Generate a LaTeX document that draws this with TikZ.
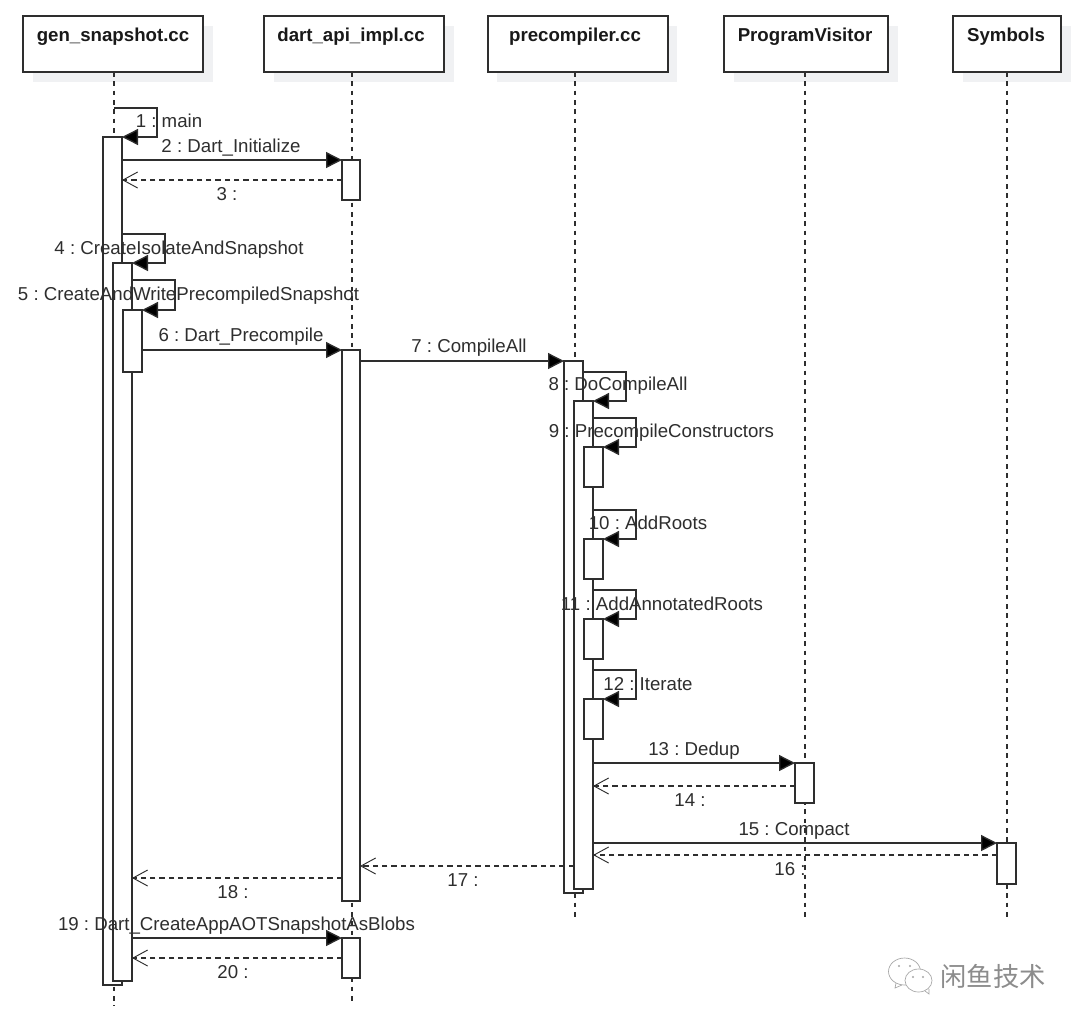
\documentclass[tikz,border=0pt]{standalone}
\usepackage{fontspec}
\setmainfont{Liberation Sans}
\newfontfamily\cjkfont{Noto Sans CJK SC}
\usetikzlibrary{arrows.meta}
\definecolor{inkc}{HTML}{2E2E2E}
\definecolor{shadowc}{HTML}{F0F1F3}
\tikzset{
  headbox/.style={draw=inkc,line width=0.9pt,fill=white,minimum height=42pt,anchor=north west,inner sep=0pt,outer sep=0pt},
  headtext/.style={font=\bfseries\fontsize{14}{16}\selectfont,text=black!90,anchor=base,inner sep=0pt},
  shadowbox/.style={fill=shadowc,draw=none,minimum height=42pt,anchor=north west,inner sep=0pt},
  lifeline/.style={draw=inkc,line width=0.9pt,dash pattern=on 3.5pt off 3.5pt},
  actbox/.style={draw=inkc,line width=0.9pt,fill=white,inner sep=0pt,outer sep=0pt,anchor=north west},
  call/.style={draw=inkc,line width=1pt,-{Triangle[length=12pt,width=12pt,fill=black]}},
  reply/.style={draw=inkc,line width=0.9pt,dash pattern=on 4pt off 3pt,-{Straight Barb[length=11pt,width=12pt,line width=0.7pt]}},
  lbl/.style={font=\fontsize{14}{16}\selectfont,text=inkc,inner sep=0pt,anchor=base},
  wmline/.style={draw=black!35,line width=0.5pt},
}
\newcommand\actnode[5]{\node[actbox,minimum width=#4*0.75pt,minimum height=#5*0.75pt] (#1) at (#2,#3) {};}
\begin{document}
\frenchspacing
\begin{tikzpicture}[x=0.75pt,y=-0.75pt]
\useasboundingbox[fill=white] (0,0) rectangle (1080,1025);
% shadows
\node[shadowbox,minimum width=135pt] (s1) at (33,26) {};
\node[shadowbox,minimum width=135pt] (s2) at (274,26) {};
\node[shadowbox,minimum width=135pt] (s3) at (497,26) {};
\node[shadowbox,minimum width=123pt] (s4) at (734,26) {};
\node[shadowbox,minimum width=81pt] (s5) at (963,26) {};
% heads
\node[headbox,minimum width=135pt] (h1) at (23,16) {};
\node[headbox,minimum width=135pt] (h2) at (264,16) {};
\node[headbox,minimum width=135pt] (h3) at (488,16) {};
\node[headbox,minimum width=123pt] (h4) at (724,16) {};
\node[headbox,minimum width=81pt] (h5) at (953,16) {};
\node[headtext] (t1) at (113,41) {gen\_snapshot.cc};
\node[headtext] (t2) at (351,41) {dart\_api\_impl.cc};
\node[headtext] (t3) at (575,41) {precompiler.cc};
\node[headtext] (t4) at (805,41) {ProgramVisitor};
\node[headtext] (t5) at (1006,41) {Symbols};
% lifeline ends
\coordinate (e1) at (114,1006);
\coordinate (e2) at (352,1002);
\coordinate (e3) at (575,921);
\coordinate (e4) at (805,921);
\coordinate (e5) at (1007,921);
\draw[lifeline] (h1.south -| e1) -- (e1);
\draw[lifeline] (h2.south -| e2) -- (e2);
\draw[lifeline] (h3.south -| e3) -- (e3);
\draw[lifeline] (h4.south -| e4) -- (e4);
\draw[lifeline] (h5.south -| e5) -- (e5);
% activations
\actnode{a1}{103}{137}{19}{848}
\actnode{a2}{113}{263}{19}{718}
\actnode{a3}{123}{310}{19}{62}
\actnode{b1}{342}{160}{18}{40}
\actnode{b2}{342}{350}{18}{551}
\actnode{b3}{342}{938}{18}{40}
\actnode{c1}{564}{361}{19}{532}
\actnode{c2}{574}{401}{19}{488}
\actnode{c3}{584}{447}{19}{40}
\actnode{c4}{584}{539}{19}{40}
\actnode{c5}{584}{619}{19}{40}
\actnode{c6}{584}{699}{19}{40}
\actnode{d1}{795}{763}{19}{40}
\actnode{f1}{997}{843}{19}{41}
% self calls: corner coordinates
\coordinate (k1) at (157,108);
\coordinate (k4) at (165,234);
\coordinate (k5) at (175,280);
\coordinate (k8) at (626,372);
\coordinate (k9) at (636,418);
\coordinate (k10) at (636,510);
\coordinate (k11) at (636,590);
\coordinate (k12) at (636,670);
\draw[call] (e1 |- k1) -- (k1) -- (k1 |- a1.north) -- (a1.north east);
\draw[call] (a1.east |- k4) -- (k4) -- (k4 |- a2.north) -- (a2.north east);
\draw[call] (a2.east |- k5) -- (k5) -- (k5 |- a3.north) -- (a3.north east);
\draw[call] (c1.east |- k8) -- (k8) -- (k8 |- c2.north) -- (c2.north east);
\draw[call] (c2.east |- k9) -- (k9) -- (k9 |- c3.north) -- (c3.north east);
\draw[call] (c2.east |- k10) -- (k10) -- (k10 |- c4.north) -- (c4.north east);
\draw[call] (c2.east |- k11) -- (k11) -- (k11 |- c5.north) -- (c5.north east);
\draw[call] (c2.east |- k12) -- (k12) -- (k12 |- c6.north) -- (c6.north east);
% calls
\draw[call] (a1.east |- b1.north west) -- (b1.north west);
\draw[call] (a3.east |- b2.north west) -- (b2.north west);
\draw[call] (b2.east |- c1.north west) -- (c1.north west);
\draw[call] (c2.east |- d1.north west) -- (d1.north west);
\draw[call] (c2.east |- f1.north west) -- (f1.north west);
\draw[call] (a2.east |- b3.north west) -- (b3.north west);
% replies
\coordinate (r3) at (0,180);
\coordinate (r14) at (0,786);
\coordinate (r16) at (0,855);
\coordinate (r17) at (0,866);
\coordinate (r18) at (0,878);
\coordinate (r20) at (0,958);
\draw[reply] (b1.west |- r3) -- (a1.east |- r3);
\draw[reply] (d1.west |- r14) -- (c2.east |- r14);
\draw[reply] (f1.west |- r16) -- (c2.east |- r16);
\draw[reply] (c2.west |- r17) -- (b2.east |- r17);
\draw[reply] (b2.west |- r18) -- (a2.east |- r18);
\draw[reply] (b3.west |- r20) -- (a2.east |- r20);
% labels
\node[lbl] (l1) at (169,127) {1 : main};
\node[lbl] (l2) at (231,152) {2 : Dart\_Initialize};
\node[lbl] (l3) at (227,200) {3 :};
\node[lbl] (l4) at (179,254) {4 : CreateIsolateAndSnapshot};
\node[lbl] (l5) at (188.5,300) {5 : CreateAndWritePrecompiledSnapshot};
\node[lbl] (l6) at (241,341) {6 : Dart\_Precompile};
\node[lbl] (l7) at (469,352) {7 : CompileAll};
\node[lbl] (l8) at (618,390) {8 : DoCompileAll};
\node[lbl] (l9) at (661.5,437) {9 : PrecompileConstructors};
\node[lbl] (l10) at (648,529) {10 : AddRoots};
\node[lbl] (l11) at (662,610) {11 : AddAnnotatedRoots};
\node[lbl] (l12) at (648,690) {12 : Iterate};
\node[lbl] (l13) at (694,755) {13 : Dedup};
\node[lbl] (l14) at (690,806) {14 :};
\node[lbl] (l15) at (794,835) {15 : Compact};
\node[lbl] (l16) at (790,875) {16 :};
\node[lbl] (l17) at (463,886) {17 :};
\node[lbl] (l18) at (233,898) {18 :};
\node[lbl] (l19) at (236.5,930) {19 : Dart\_CreateAppAOTSnapshotAsBlobs};
\node[lbl] (l20) at (233,978) {20 :};
% watermark
\node[font=\cjkfont\fontsize{19.7}{21}\selectfont,text=black!45,anchor=base,inner sep=0pt] (wm) at (993,986) {闲鱼技术};
\draw[wmline] (904.5,971.5) ellipse (16 and 13.5);
\draw[wmline] (896,983) -- (895,988) -- (902,985);
\draw[wmline,fill=white] (918.5,980.5) ellipse (13.5 and 11.5);
\draw[wmline] (925,991) -- (929,994) -- (929,989);
\fill[black!35] (899,966) circle (1.2) (910,966) circle (1.2) (913,977) circle (1.2) (923,977) circle (1.2);
\end{tikzpicture}
\end{document}
